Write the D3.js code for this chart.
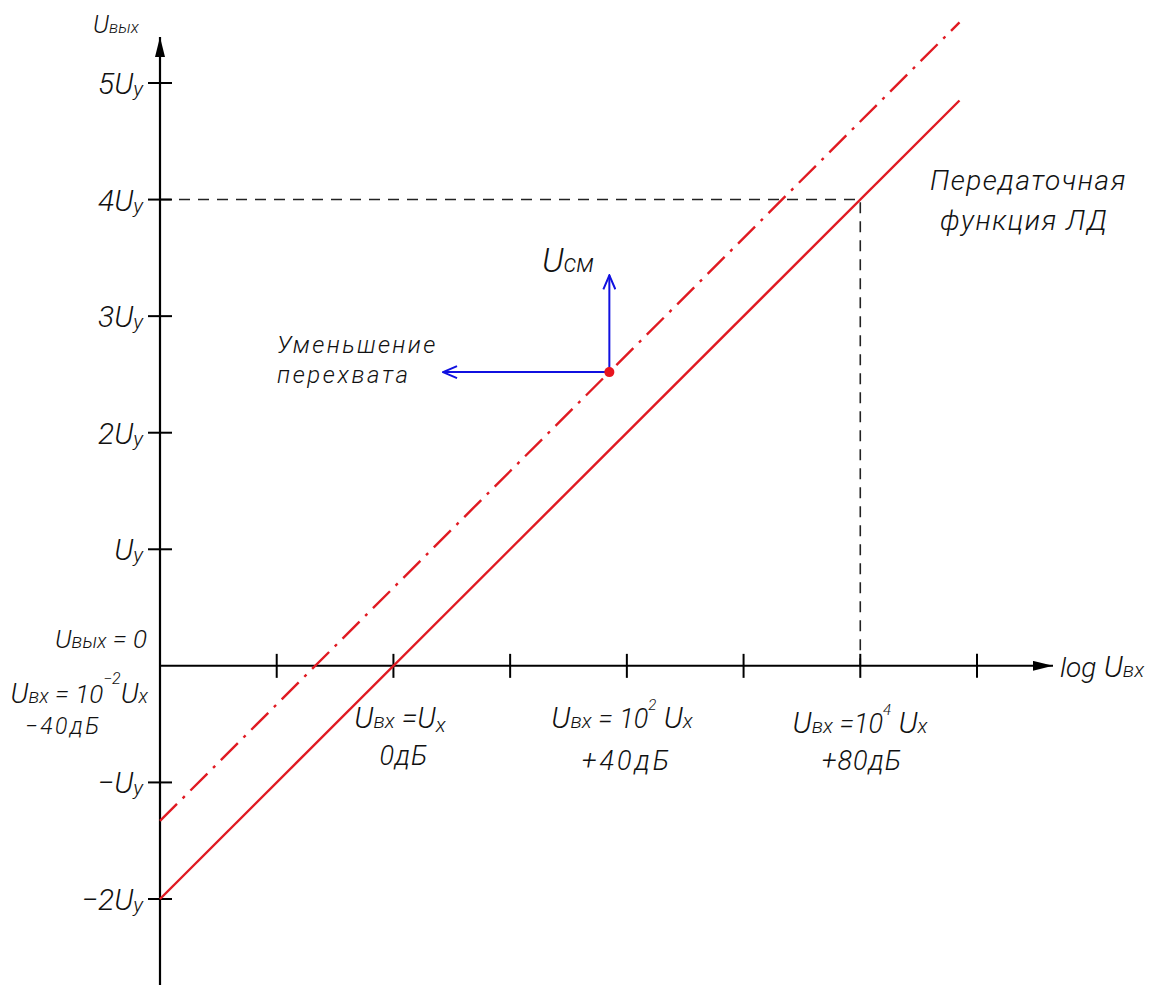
<!DOCTYPE html>
<meta charset="utf-8">
<script src="https://d3js.org/d3.v7.min.js"></script>
<style>
  body { margin: 0; background: #fff; }
  text { font-family: Roboto, "DejaVu Sans", sans-serif; font-style: italic; font-weight: 300; fill: #111; }
</style>
<div id="chart"></div>
<script>
// input level in dB relative to Ux, output in units of Uy
var xTicks = [-20, 0, 20, 40, 60, 80, 100];
var yTicks = [-2, -1, 1, 2, 3, 4, 5];
var yTickLabels = ["\u22122U", "\u2212U", "U", "2U", "3U", "4U", "5U"];
var transferLine = [[-40, -2], [97, 4.85]];
var shiftedLine = [[-40, -1.33], [97, 5.52]];
var workPoint = [37, 2.52];
var biasArrowTo = 3.35;       // Uсм arrow tip (Uy)
var interceptArrowTo = 8.5;   // "Уменьшение перехвата" arrow tip (dB)
var markerLevel = [80, 4];    // dashed guide to 4Uy at +80 dB

var width = 1155, height = 985;
var x = d3.scaleLinear().domain([-40, 100]).range([160, 977]);
var y = d3.scaleLinear().domain([-2, 5]).range([899, 83]);

var svg = d3.select("#chart").append("svg")
    .attr("width", width)
    .attr("height", height);

var defs = svg.append("defs");
defs.append("marker").attr("id", "blk")
    .attr("viewBox", "0 0 20 10").attr("refX", 20).attr("refY", 5)
    .attr("markerWidth", 20).attr("markerHeight", 10)
    .attr("markerUnits", "userSpaceOnUse").attr("orient", "auto")
  .append("path").attr("d", "M0,0L20,5L0,10Z").attr("fill", "#000");
defs.append("marker").attr("id", "blu")
    .attr("viewBox", "0 0 16 14").attr("refX", 15).attr("refY", 7)
    .attr("markerWidth", 16).attr("markerHeight", 14)
    .attr("markerUnits", "userSpaceOnUse").attr("orient", "auto")
  .append("path").attr("d", "M1,1L15,7L1,13").attr("fill", "none")
    .attr("stroke", "#1010e0").attr("stroke-width", 2);

// dashed guides to 4Uy / +80 dB
svg.append("path")
    .attr("d", "M" + x(-40) + "," + y(markerLevel[1]) + "H" + x(markerLevel[0]) + "V" + y(0))
    .attr("fill", "none").attr("stroke", "#222").attr("stroke-width", 1.6)
    .attr("stroke-dasharray", "11,8");

// axes
svg.append("line").attr("x1", x(-40)).attr("x2", x(-40))
    .attr("y1", height).attr("y2", 37)
    .attr("stroke", "#000").attr("stroke-width", 2.2).attr("marker-end", "url(#blk)");
svg.append("line").attr("x1", x(-40)).attr("x2", 1053)
    .attr("y1", y(0)).attr("y2", y(0))
    .attr("stroke", "#000").attr("stroke-width", 2).attr("marker-end", "url(#blk)");

svg.selectAll(".xt").data(xTicks).enter().append("line")
    .attr("x1", d => x(d)).attr("x2", d => x(d))
    .attr("y1", y(0) - 12).attr("y2", y(0) + 12)
    .attr("stroke", "#000").attr("stroke-width", 2);
svg.selectAll(".yt").data(yTicks).enter().append("line")
    .attr("x1", x(-40) - 12).attr("x2", x(-40) + 12)
    .attr("y1", d => y(d)).attr("y2", d => y(d))
    .attr("stroke", "#000").attr("stroke-width", 2);

var yl = svg.selectAll(".yl").data(yTicks).enter().append("text")
    .attr("x", 143).attr("y", d => y(d) + 11)
    .attr("text-anchor", "end").style("font-size", "30px");
yl.append("tspan").text((d, i) => yTickLabels[i]);
yl.append("tspan").text("y").style("font-size", "21px").attr("dy", 2);

// transfer lines
var line = d3.line().x(d => x(d[0])).y(d => y(d[1]));
svg.append("path").attr("d", line(shiftedLine))
    .attr("fill", "none").attr("stroke", "#e01a22").attr("stroke-width", 2.4)
    .attr("stroke-dasharray", "24,8,3,8");
svg.append("path").attr("d", line(transferLine))
    .attr("fill", "none").attr("stroke", "#e01a22").attr("stroke-width", 2.4);

// bias / intercept arrows
svg.append("line").attr("x1", x(workPoint[0])).attr("x2", x(workPoint[0]))
    .attr("y1", y(workPoint[1])).attr("y2", y(biasArrowTo))
    .attr("stroke", "#1010e0").attr("stroke-width", 2).attr("marker-end", "url(#blu)");
svg.append("line").attr("x1", x(workPoint[0])).attr("x2", x(interceptArrowTo))
    .attr("y1", y(workPoint[1])).attr("y2", y(workPoint[1]))
    .attr("stroke", "#1010e0").attr("stroke-width", 2).attr("marker-end", "url(#blu)");
svg.append("circle").attr("cx", x(workPoint[0])).attr("cy", y(workPoint[1]))
    .attr("r", 5).attr("fill", "#e8141e");

// text helper: parts = [text, size, dy]
function label(px, py, anchor, parts, spacing) {
  var t = svg.append("text").attr("x", px).attr("y", py).attr("text-anchor", anchor)
      .style("letter-spacing", (spacing || 0) + "px");
  parts.forEach(function(p) {
    t.append("tspan").text(p[0]).style("font-size", p[1] + "px").attr("dy", p[2] || 0);
  });
  return t;
}

label(93, 33, "start", [["U", 25], ["вых", 17, 0]]);
label(147, 648, "end", [["U", 26], ["вых", 20], [" = 0", 26]]);
label(148, 703, "end", [["U", 28], ["вх", 20], [" = 10", 26], ["\u22122", 16, -19], ["U", 28, 19], ["x", 20]]);
label(25, 734, "start", [["\u221240дБ", 23]], 2.5);

label(400, 728, "middle", [["U", 30], ["вх", 21], [" =U", 29], ["x", 21, 4]]);
label(404, 765, "middle", [["0дБ", 27]], 1);
label(622, 728, "middle", [["U", 30], ["вх", 21], [" = 10", 27], ["2", 15, -18], [" U", 30, 18], ["x", 21]]);
label(627, 770, "middle", [["+40дБ", 27]], 3);
label(860, 733, "middle", [["U", 30], ["вх", 21], [" =10", 27], ["4", 15, -18], [" U", 30, 18], ["x", 21]]);
label(862, 770, "middle", [["+80дБ", 27]], 1);
label(1060, 677, "start", [["log", 28], [" U", 30], ["вх", 21]]);

label(542, 272, "start", [["U", 34], ["см", 25]]);
label(277, 353, "start", [["Уменьшение", 24]], 2.4);
label(277, 383, "start", [["перехвата", 24]], 2.6);
label(930, 190, "start", [["Передаточная", 28]], 1.5);
label(940, 230, "start", [["функция  ЛД", 28]], 1.5);
</script>
